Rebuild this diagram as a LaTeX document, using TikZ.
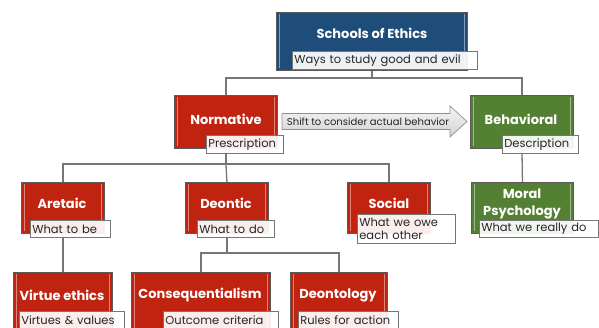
\documentclass[tikz,border=0pt]{standalone}
\usepackage{fontspec}
\setmainfont{Poppins}
\pgfdeclarelayer{background}
\pgfsetlayers{background,main}
\definecolor{cblue}{RGB}{31,77,122}
\definecolor{cred}{RGB}{192,35,15}
\definecolor{cgreen}{RGB}{84,128,52}
\definecolor{cline}{RGB}{118,118,118}
\definecolor{cborder}{RGB}{90,90,90}
\definecolor{ctext}{RGB}{38,38,38}
\tikzset{
  box/.style={draw=cborder, line width=0.9pt, anchor=north west, inner sep=0pt,
    path picture={
      \draw[white, opacity=0.45, line width=1pt]
        ([xshift=3pt,yshift=-2pt]path picture bounding box.north west) --
        ([xshift=3pt,yshift=2pt]path picture bounding box.south west);
      \draw[white, opacity=0.45, line width=1pt]
        ([xshift=-3pt,yshift=-2pt]path picture bounding box.north east) --
        ([xshift=-3pt,yshift=2pt]path picture bounding box.south east);}},
  title/.style={text=white, font=\bfseries\fontsize{13}{16.5}\selectfont, align=center, inner sep=0pt},
  sub/.style={draw=cline, fill=white, fill opacity=0.92, text opacity=1, line width=0.7pt,
    anchor=north west, text=ctext, font=\fontsize{11.5}{13.5}\selectfont, align=left,
    inner xsep=2pt, inner ysep=0pt, minimum height=18pt},
  conn/.style={draw=cline, line width=1.3pt},
}
\begin{document}
\begin{tikzpicture}[x=1pt,y=-1pt]
\useasboundingbox (0,0) rectangle (599,328);
\clip (0,0) rectangle (599,328);
% boxes
\node[box, fill=cblue, minimum width=191pt, minimum height=58pt] (top) at (276,12) {};
\node[box, fill=cred, minimum width=103pt, minimum height=53pt] (norm) at (174,95) {};
\node[box, fill=cgreen, minimum width=103pt, minimum height=53pt] (beh) at (470,95) {};
\node[box, fill=cred, minimum width=83pt, minimum height=51pt] (aret) at (21,182) {};
\node[box, fill=cred, minimum width=83pt, minimum height=51pt] (deon) at (185,182) {};
\node[box, fill=cred, minimum width=83pt, minimum height=51pt] (soc) at (347,182) {};
\node[box, fill=cgreen, minimum width=102pt, minimum height=51pt] (mp) at (471,182) {};
\node[box, fill=cred, minimum width=99pt, minimum height=68pt] (virt) at (13,272) {};
\node[box, fill=cred, minimum width=139pt, minimum height=68pt] (cons) at (131,272) {};
\node[box, fill=cred, minimum width=97pt, minimum height=68pt] (dtol) at (290,272) {};
% connectors
\coordinate (j1) at (top.south |- 0,78);
\coordinate (j2) at (norm.south |- 0,164);
\coordinate (j3) at (deon.south |- 0,253);
\begin{pgfonlayer}{background}
\draw[conn] (top.south) -- (j1);
\draw[conn] (norm.north) |- (j1) -| (beh.north);
\draw[conn] (norm.south) -- (j2);
\draw[conn] (aret.north) |- (j2) -| (soc.north);
\draw[conn] (j2) -- (deon.north);
\draw[conn] (beh.south) -- (mp.north);
\draw[conn] (aret.south) -- (virt.north);
\draw[conn] (deon.south) -- (j3);
\draw[conn] (cons.north) |- (j3) -| (dtol.north);
\end{pgfonlayer}
% titles
\node[title] (t0) at (372,33) {Schools of Ethics};
\node[title] (t1) at (226,119) {Normative};
\node[title] (t2) at (521,119) {Behavioral};
\node[title] (t3) at (62,203) {Aretaic};
\node[title] (t4) at (226,203) {Deontic};
\node[title] (t5) at (389,203) {Social};
\node[title] (t6) at (522,204) {Moral\\Psychology};
\node[title] (t7) at (62,295) {Virtue ethics};
\node[title] (t8) at (200,295) {Consequentialism};
\node[title] (t9) at (338,295) {Deontology};
% arrow
\coordinate (a0) at (282,113.5);
\draw[draw=cline!80, line width=0.7pt, top color=gray!8, bottom color=gray!35]
  (a0) -- ++(168,0) -- ++(0,-7.5) -- ++(17,15.5) -- ++(-17,15.5) -- ++(0,-7.5) -- ++(-168,0) -- cycle;
\node[text=ctext, font=\fontsize{10}{11}\selectfont, inner sep=0pt] (arrt) at (368,122) {Shift to consider actual behavior};
% sub labels
\node[sub, text width=181pt] (s0) at (292,51) {Ways to study good and evil};
\node[sub, text width=73pt] (s1) at (206,135) {Prescription};
\node[sub, text width=72pt] (s2) at (502,135) {Description};
\node[sub, text width=76pt, minimum height=17pt] (s3) at (30,220) {What to be};
\node[sub, text width=73pt, minimum height=17pt] (s4) at (197,220) {What to do};
\node[sub, text width=94pt, minimum height=29pt] (s5) at (357,214) {What we owe\\each other};
\node[sub, text width=115pt, minimum height=17pt] (s6) at (479,220) {What we really do};
\node[sub, text width=101pt] (s7) at (19,311) {Virtues \& values};
\node[sub, text width=111pt] (s8) at (163,311) {Outcome criteria};
\node[sub, text width=96pt] (s9) at (298,311) {Rules for action};
\end{tikzpicture}
\end{document}
